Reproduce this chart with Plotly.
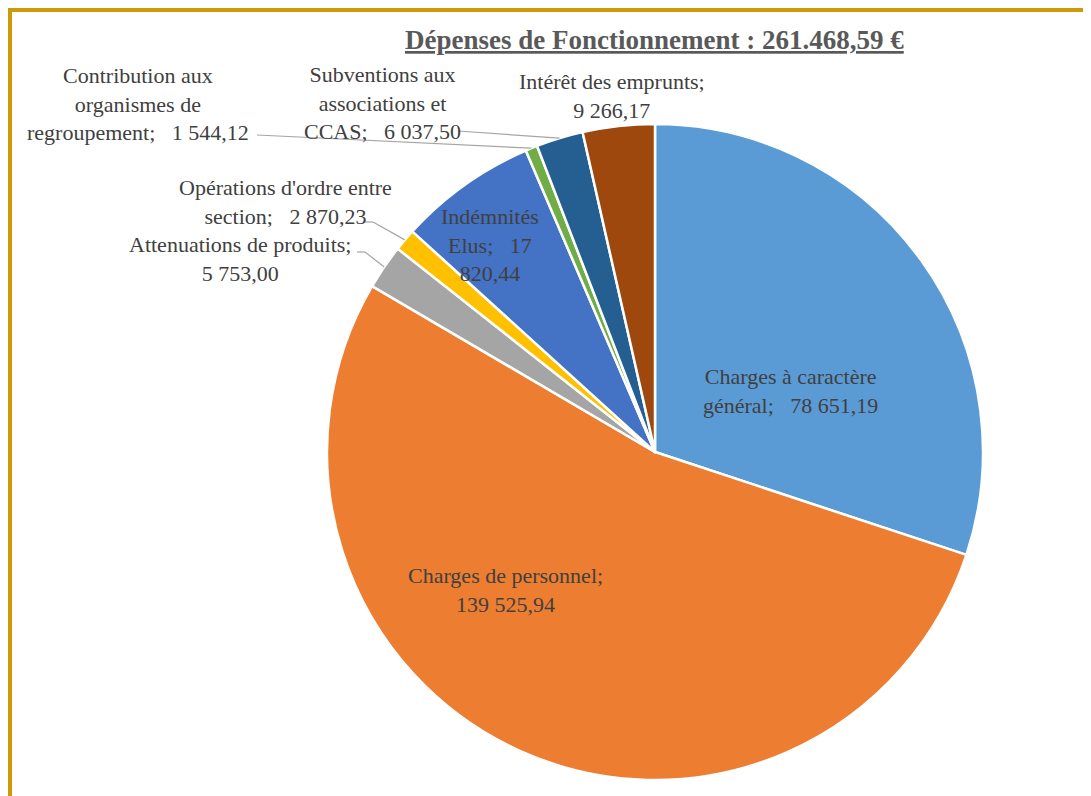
import math
import plotly.graph_objects as go

# ---- data ----
categories = [
    "Charges à caractère général",
    "Charges de personnel",
    "Attenuations de produits",
    "Opérations d'ordre entre section",
    "Indémnités Elus",
    "Contribution aux organismes de regroupement",
    "Subventions aux associations et CCAS",
    "Intérêt des emprunts",
]
values = [78651.19, 139525.94, 5753.00, 2870.23, 17820.44, 1544.12, 6037.50, 9266.17]
value_labels = ["78 651,19", "139 525,94", "5 753,00", "2 870,23", "17 820,44", "1 544,12", "6 037,50", "9 266,17"]
colors = ["#5B9BD5", "#ED7D31", "#A5A5A5", "#FFC000", "#4472C4", "#70AD47", "#255E91", "#9E480E"]
title_text = "Dépenses de Fonctionnement : 261.468,59 €"

# label text lines (as wrapped in the reference)
label_lines = [
    ["Charges à caractère", "général;\u00a0\u00a0 {v}"],
    ["Charges de personnel;", "{v}"],
    ["Attenuations de produits;", "{v}"],
    ["Opérations d'ordre entre", "section;\u00a0\u00a0 {v}"],
    ["Indémnités", "Elus;\u00a0\u00a0 17", "820,44"],
    ["Contribution aux", "organismes de", "regroupement;\u00a0\u00a0 {v}"],
    ["Subventions aux", "associations et", "CCAS;\u00a0\u00a0 {v}"],
    ["Intérêt des emprunts;", "{v}"],
]

# ---- layout geometry (pixels, in page coordinates) ----
W, H = 1091, 796
OFF = 8  # page body margin offset
CX, CY, R = 655, 452, 328
label_pos = [(790, 391), (505, 590), (240, 259), (285, 202), (490, 245), (138, 104), (382, 103), (612, 96)]
leader_start = [None, None, (357, 252), (363, 222), None, (257, 135), (458, 131), None]
leader_elbow = [None, None, (365, 252), (373, 222), None, None, None, None]


def px(x):
    return (x - OFF) / W


def py(y):
    return 1 - (y - OFF) / H


TEXT_COLOR = "#404040"
FONT = "Liberation Serif"

fig = go.Figure(go.Pie(
    labels=categories,
    values=values,
    sort=False,
    direction="clockwise",
    rotation=0,
    marker=dict(colors=colors, line=dict(color="white", width=2.5)),
    textinfo="none",
    hoverinfo="label+value",
    showlegend=False,
    domain=dict(x=[px(CX - R), px(CX + R)], y=[py(CY + R), py(CY - R)]),
))

annotations = []
for lines, v, (lx, ly) in zip(label_lines, value_labels, label_pos):
    txt = "<br>".join(l.format(v=v) for l in lines)
    annotations.append(dict(
        x=px(lx), y=py(ly), xref="paper", yref="paper",
        text=txt, showarrow=False, align="center",
        xanchor="center", yanchor="middle",
        font=dict(family=FONT, size=22, color=TEXT_COLOR),
    ))

annotations.append(dict(
    x=px(654), y=py(40), xref="paper", yref="paper",
    text="<b>" + title_text + "</b>", showarrow=False,
    xanchor="center", yanchor="middle",
    font=dict(family=FONT, size=27, color="#595959", lineposition="under"),
))

shapes = []
total = sum(values)
cum = 0.0
for i, v in enumerate(values):
    mid = (cum + v / 2) / total * 2 * math.pi
    cum += v
    if leader_start[i] is None:
        continue
    ex = CX + R * math.sin(mid)
    ey = CY - R * math.cos(mid)
    pts = [leader_start[i]]
    if leader_elbow[i] is not None:
        pts.append(leader_elbow[i])
    pts.append((ex, ey))
    for (x0, y0), (x1, y1) in zip(pts[:-1], pts[1:]):
        shapes.append(dict(type="line", xref="paper", yref="paper",
                           x0=px(x0), y0=py(y0), x1=px(x1), y1=py(y1),
                           line=dict(color="#A6A6A6", width=1.2)))

# gold frame (top and left edges)
GOLD = "#CC9A06"
shapes.append(dict(type="line", xref="paper", yref="paper", x0=px(7), x1=1, y0=py(10), y1=py(10),
                   line=dict(color=GOLD, width=4)))
shapes.append(dict(type="line", xref="paper", yref="paper", x0=px(9.5), x1=px(9.5), y0=py(8), y1=0,
                   line=dict(color=GOLD, width=5)))

fig.update_layout(
    width=W, height=H,
    margin=dict(l=0, r=0, t=0, b=0),
    paper_bgcolor="white", plot_bgcolor="white",
    annotations=annotations,
    shapes=shapes,
)

fig.write_html("out.html")
